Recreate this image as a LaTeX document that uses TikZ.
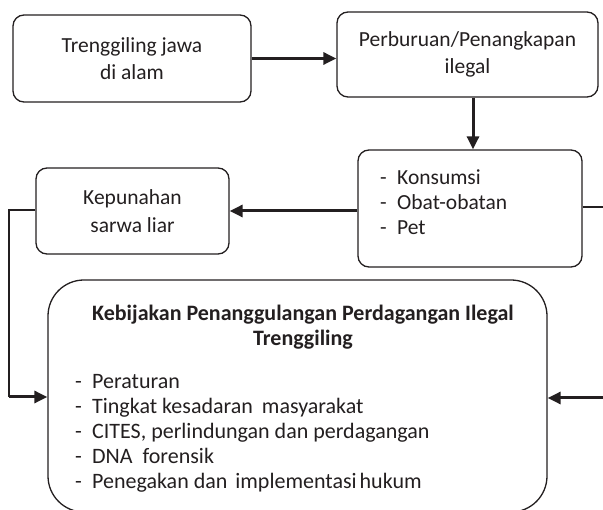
\documentclass[tikz,border=0pt]{standalone}
\usepackage{fontspec}
\setmainfont{Carlito}
\usetikzlibrary{arrows.meta,calc}
\definecolor{ink}{HTML}{231F20}
\tikzset{
  box/.style={draw=ink, line width=1.3pt, rounded corners=11pt, inner sep=0pt, text=ink},
  bigbox/.style={draw=ink, line width=1.3pt, rounded corners=36pt, inner sep=0pt},
  txt/.style={text=ink, inner sep=0pt, font=\fontsize{21}{27}\selectfont},
  arr/.style={draw=ink, line width=3pt, -{Triangle[length=13pt,width=12pt]}},
  conn/.style={draw=ink, line width=1.4pt}
}
\newcommand{\dashitem}[1]{\makebox[17pt][l]{-}#1}
\begin{document}
\begin{tikzpicture}[x=1pt,y=-1pt]
\useasboundingbox (0,0) rectangle (603,510);
\clip (0,0) rectangle (603,510);
% boxes
\node[box, minimum width=238pt, minimum height=87pt, align=center, font=\fontsize{21.5}{27}\selectfont] (b1) at (132,58.5) {Trenggiling jawa\\di alam};
\node[box, minimum width=261pt, minimum height=85pt, align=center, font=\fontsize{21.5}{27}\selectfont] (b2) at (467.5,54.5) {Perburuan/Penangkapan\\ilegal};
\node[box, minimum width=193pt, minimum height=86pt, align=center, font=\fontsize{21.5}{28}\selectfont] (kep) at (132.5,211) {Kepunahan\\sarwa liar};
\node[box, minimum width=224pt, minimum height=117pt] (kon) at (470,208.5) {};
\node[txt, anchor=west, align=left, font=\fontsize{21.5}{25}\selectfont] (kontext) at (380,202) {\dashitem{Konsumsi}\\\dashitem{Obat-obatan}\\\dashitem{Pet}};
\node[bigbox, minimum width=499pt, minimum height=232pt] (big) at (297.5,396) {};
\node[txt, align=center, font=\fontsize{22}{25}\selectfont\bfseries] (title) at (303,327.5) {Kebijakan Penanggulangan Perdagangan Ilegal\\Trenggiling};
\node[txt, anchor=west, align=left, font=\fontsize{22}{25}\selectfont] (list) at (75,433) {\dashitem{Peraturan}\\\dashitem{Tingkat kesadaran\hspace{4pt} masyarakat}\\\dashitem{CITES, perlindungan dan perdagangan}\\\dashitem{DNA\ \ forensik}\\\dashitem{Penegakan dan\hspace{3pt} implementasi\hspace{-2pt} hukum}};
% connectors
\draw[arr] (b1.east) -- (b1.east -| b2.west);
\draw[arr] ([xshift=5.5pt]b2.south) -- ([xshift=5.5pt]b2.south |- kon.north);
\draw[arr] (kon.west |- kep.east) -- (kep.east);
\coordinate (lt) at (9,210);
\coordinate (lb) at (9,397);
\draw[conn] (kep.west |- lt) -- (lt) -- (lb);
\draw[arr] (lb) -- (lb -| big.west);
\coordinate (rt) at (612,207);
\coordinate (rb) at (612,398);
\draw[conn] (kon.east |- rt) -- (rt) -- (rb);
\draw[arr] (rb) -- (rb -| big.east);
\end{tikzpicture}
\end{document}
